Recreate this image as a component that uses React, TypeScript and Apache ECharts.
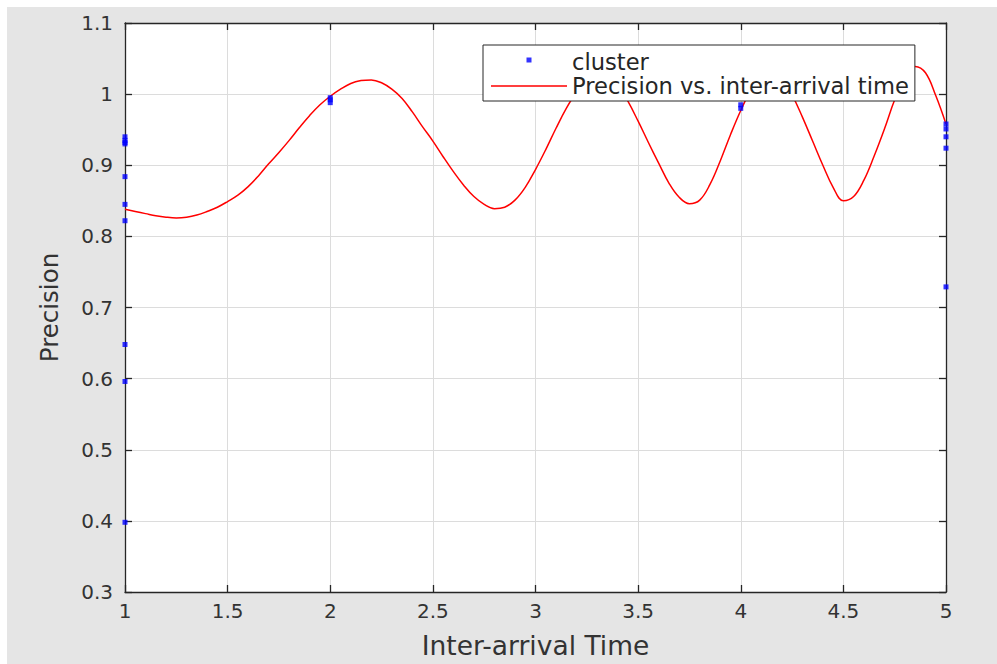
import React, { useEffect, useRef } from "react";
import * as echarts from "echarts";

const xTicks = ["1", "1.5", "2", "2.5", "3", "3.5", "4", "4.5", "5"];

const clusterX = [1, 1, 1, 1, 1, 1, 1, 1, 1, 1, 2, 2, 2, 4, 4, 5, 5, 5, 5, 5];
const clusterY = [
  0.93, 0.935, 0.94, 0.884, 0.845, 0.822, 0.648, 0.596, 0.398, 0.932,
  0.988, 0.992, 0.995, 0.98, 0.985, 0.951, 0.958, 0.94, 0.924, 0.729,
];

const curveX = [
  1.0, 1.05, 1.1, 1.15, 1.2, 1.25, 1.3, 1.35, 1.4, 1.45, 1.5, 1.55, 1.6, 1.65,
  1.7, 1.75, 1.8, 1.85, 1.9, 1.95, 2.0, 2.05, 2.1, 2.15, 2.2, 2.25, 2.3, 2.35,
  2.4, 2.45, 2.5, 2.55, 2.6, 2.65, 2.7, 2.75, 2.8, 2.85, 2.9, 2.95, 3.0, 3.05,
  3.1, 3.15, 3.2, 3.25, 3.3, 3.35, 3.4, 3.45, 3.5, 3.55, 3.6, 3.65, 3.7, 3.75,
  3.8, 3.85, 3.9, 3.95, 4.0, 4.05, 4.1, 4.15, 4.2, 4.25, 4.3, 4.35, 4.4, 4.45,
  4.5, 4.55, 4.6, 4.65, 4.7, 4.75, 4.8, 4.85, 4.9, 4.95, 5.0,
];
const curveY = [
  0.838, 0.835, 0.832, 0.829, 0.827, 0.826, 0.827, 0.83, 0.835, 0.841, 0.849,
  0.858, 0.87, 0.885, 0.902, 0.918, 0.935, 0.953, 0.97, 0.985, 0.997, 1.007,
  1.015, 1.019, 1.02, 1.016, 1.007, 0.994, 0.975, 0.954, 0.934, 0.912, 0.891,
  0.872, 0.856, 0.845, 0.839, 0.841, 0.851, 0.869, 0.894, 0.922, 0.952, 0.98,
  1.003, 1.02, 1.028, 1.027, 1.013, 0.99, 0.962, 0.932, 0.903, 0.875, 0.855,
  0.846, 0.851, 0.873, 0.906, 0.943, 0.977, 1.006, 1.024, 1.03, 1.022, 0.999,
  0.968, 0.934, 0.9, 0.869, 0.85, 0.856, 0.879, 0.913, 0.951, 0.992, 1.024,
  1.039, 1.03, 0.998, 0.958,
];

const FONT = "DejaVu Sans";
const AX = "#262626";
const TXT = "#333333";

export default function App() {
  const ref = useRef<HTMLDivElement>(null);
  useEffect(() => {
    if (!ref.current) return;
    const chart = echarts.init(ref.current, undefined, { renderer: "svg" });
    const scatterData = clusterX.map((x, i) => [x, clusterY[i]]);
    const lineData = curveX.map((x, i) => [x, curveY[i]]);
    const axisCommon = {
      type: "value" as const,
      axisLine: { show: true, lineStyle: { color: AX, width: 1.3 } },
      axisTick: { show: true, inside: true, length: 7, lineStyle: { color: AX, width: 1.3 } },
      splitLine: { show: false },
    };
    chart.setOption({
      animation: false,
      backgroundColor: "#e5e5e5",
      textStyle: { fontFamily: FONT },
      grid: {
        left: 118,
        top: 16,
        right: 51,
        bottom: 72,
        show: true,
        backgroundColor: "#ffffff",
        borderWidth: 0,
      },
      legend: {
        orient: "vertical",
        left: 476,
        top: 38,
        padding: [5, 6, 3, 8],
        itemGap: 0,
        itemWidth: 76,
        itemHeight: 14,
        backgroundColor: "#ffffff",
        borderColor: AX,
        borderWidth: 1,
        borderRadius: 0,
        textStyle: { fontFamily: FONT, fontSize: 22.6, color: AX, lineHeight: 24 },
        data: [
          {
            name: "cluster",
            icon: "path://M0,0L76,0M0,14L76,14M35.5,2.5h5v5h-5z",
            itemStyle: { borderWidth: 0, color: "#0000ff" },
          },
          {
            name: "Precision vs. inter-arrival time",
            icon: "path://M0,0L76,0M0,14L76,14M0,6.3h76v1.4h-76z",
            itemStyle: { borderWidth: 0, color: "#ff0000" },
          },
        ],
      },
      xAxis: [
        {
          ...axisCommon,
          min: 1,
          max: 5,
          interval: 0.5,
          position: "bottom",
          axisLabel: {
            show: true,
            margin: 9,
            fontFamily: FONT,
            fontSize: 20,
            color: TXT,
            formatter: (v: number) => xTicks[Math.round((v - 1) / 0.5)] ?? String(v),
          },
          splitLine: { show: true, lineStyle: { color: "#dcdcdc", width: 1 } },
          name: "Inter-arrival Time",
          nameLocation: "middle",
          nameGap: 40,
          nameTextStyle: { fontFamily: FONT, fontSize: 26.5, color: TXT },
        },
        {
          ...axisCommon,
          min: 1,
          max: 5,
          interval: 0.5,
          position: "top",
          axisLabel: { show: false },
        },
      ],
      yAxis: [
        {
          ...axisCommon,
          min: 0.3,
          max: 1.1,
          interval: 0.1,
          position: "left",
          axisLabel: { show: true, margin: 12, fontFamily: FONT, fontSize: 20, color: TXT },
          splitLine: { show: true, lineStyle: { color: "#dcdcdc", width: 1 } },
          name: "Precision",
          nameLocation: "middle",
          nameGap: 63,
          nameTextStyle: { fontFamily: FONT, fontSize: 24.5, color: TXT },
        },
        {
          ...axisCommon,
          min: 0.3,
          max: 1.1,
          interval: 0.1,
          position: "right",
          axisLabel: { show: false },
        },
      ],
      series: [
        {
          name: "cluster",
          type: "scatter",
          data: scatterData,
          symbol: "rect",
          symbolSize: 5,
          clip: false,
          itemStyle: { color: "#0000ff" },
          z: 3,
        },
        {
          name: "Precision vs. inter-arrival time",
          type: "line",
          data: lineData,
          smooth: 0.4,
          symbol: "none",
          showSymbol: false,
          lineStyle: { color: "#ff0000", width: 1.5 },
          itemStyle: { color: "#ff0000" },
          z: 2,
        },
      ],
    });
    return () => chart.dispose();
  }, []);
  return (
    <div
      ref={ref}
      style={{ position: "absolute", left: 7, top: 7, width: 990, height: 657 }}
    />
  );
}
